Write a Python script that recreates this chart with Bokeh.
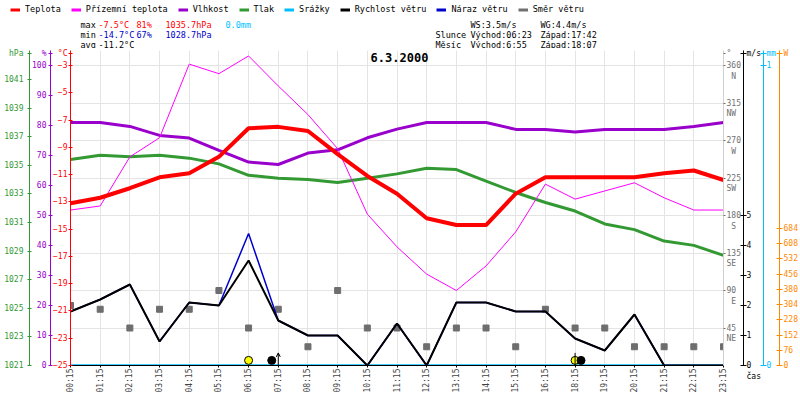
import math
from bokeh.plotting import figure
from bokeh.layouts import column
from bokeh.models import (Range1d, LinearAxis, FixedTicker, Label, Legend, LegendItem,
                          Grid, Arrow, OpenHead, ColumnDataSource)
from bokeh.embed import file_html
from bokeh.resources import INLINE

# ---------------- data ----------------
times = ["00:15", "01:15", "02:15", "03:15", "04:15", "05:15", "06:15", "07:15",
         "08:15", "09:15", "10:15", "11:15", "12:15", "13:15", "14:15", "15:15",
         "16:15", "18:15", "19:15", "20:15", "21:15", "22:15", "23:15"]
temp = [-13.1, -12.7, -12.0, -11.2, -10.9, -9.7, -7.6, -7.5, -7.8, -9.5, -11.1, -12.4,
        -14.2, -14.7, -14.7, -12.4, -11.2, -11.2, -11.2, -11.2, -10.9, -10.7, -11.4]
frost = [-13.6, -13.3, -9.7, -8.3, -2.9, -3.6, -2.3, -4.5, -6.6, -9.1, -13.9, -16.3,
         -18.3, -19.5, -17.7, -15.2, -11.7, -12.8, -12.2, -11.6, -12.7, -13.6, -13.6]
humidity = [81, 81, 79.7, 76.7, 75.8, 71.7, 67.8, 67, 70.8, 71.9, 75.9, 78.8,
            81, 81, 81, 78.7, 78.7, 77.8, 78.7, 78.7, 78.7, 79.7, 81]
pressure = [1035.4, 1035.7, 1035.6, 1035.7, 1035.5, 1035.1, 1034.3, 1034.1, 1034.0, 1033.8,
            1034.1, 1034.4, 1034.8, 1034.7, 1033.9, 1033.1, 1032.4, 1031.8, 1030.9,
            1030.5, 1029.7, 1029.4, 1028.7]
rain = [0.0, 0.0, 0.0, 0.0, 0.0, 0.0, 0.0, 0.0, 0.0, 0.0, 0.0, 0.0,
        0.0, 0.0, 0.0, 0.0, 0.0, 0.0, 0.0, 0.0, 0.0, 0.0, 0.0]
wind = [1.8, 2.2, 2.7, 0.8, 2.1, 2.0, 3.5, 1.5, 1.0, 1.0, 0.0, 1.4,
        0.0, 2.1, 2.1, 1.8, 1.8, 0.9, 0.5, 1.7, 0.0, 0.0, 0.0]
gust = [1.8, 2.2, 2.7, 0.8, 2.1, 2.0, 4.4, 1.5, 1.0, 1.0, 0.0, 1.4,
        0.0, 2.1, 2.1, 1.8, 1.8, 0.9, 0.5, 1.7, 0.0, 0.0, 0.0]
wdir = [72, 67.5, 45, 67.5, 67.5, 90, 45, 67.5, 22.5, 90, 45, 45,
        22.5, 45, 45, 22.5, 67.5, 45, 45, 22.5, 22.5, 22.5, 22.5]

temp_ticks = [-25, -23, -21, -19, -17, -15, -13, -11, -9, -7, -5, -3]
hum_ticks = [0, 10, 20, 30, 40, 50, 60, 70, 80, 90, 100]
press_ticks = [1021, 1023, 1025, 1027, 1029, 1031, 1033, 1035, 1037, 1039, 1041]
dir_ticks = [45, 90, 135, 180, 225, 270, 315, 360]
dir_letters = ["NE", " E", "SE", " S", "SW", " W", "NW", " N"]
wind_ticks = [0, 1, 2, 3, 4, 5]
rain_ticks = [0, 1]
sol_ticks = [0, 76, 152, 228, 304, 380, 456, 532, 608, 684]

# unit captions written at the top end of each axis (value where they sit)
unit_temp = (-2.12, "°C")
unit_hum = (104, "%")
unit_press = (1042.82, "hPa")
unit_dir = (374.4, "°")
unit_wind = (10.4, "m/s")
unit_rain = (1.04, "mm")
unit_sol = (1558, "W")

sun_x = [6.0, 17.0]        # sunrise / sunset marks (axis positions)
moon_x = [6.78, 17.2]      # moonrise / moonset marks
mark_level = [0.17, 0.17]  # height of the marks (m/s scale)
rise_arrow_x = 7.0
set_line_x = 17.0

legend_labels = ["Teplota", "Přízemní teplota", "Vlhkost", "Tlak", "Srážky",
                 "Rychlost větru", "Náraz větru", "Směr větru"]

# ---------------- styles ----------------
FONT = "DejaVu Sans Mono"
RED = "#ff0000"
MAG = "#ff00ff"
PUR = "#9900cc"
GRN = "#339933"
CYA = "#00bfff"
BLK = "#000000"
BLU = "#0000cc"
GRY = "#707070"
ORA = "#ff8800"
GRID = "#e4e4e4"
legend_colors = [RED, MAG, PUR, GRN, CYA, BLK, BLU, GRY]

HH = 48                      # header height
W, H = 800, 400 - HH
FL, FR, FT, FB = 70, 723, 50, 365   # frame edges in page pixels
FH = FB - FT
NB = "\u00a0"
NAN = float("nan")

# ---------------- header (legend + statistics) ----------------
hdr = figure(width=W, height=HH, output_backend="svg", toolbar_location=None,
             x_range=Range1d(0, W), y_range=Range1d(0, HH),
             x_axis_type=None, y_axis_type=None, min_border=0,
             outline_line_color=None, background_fill_color="white",
             border_fill_color="white")
hdr.xgrid.visible = False
hdr.ygrid.visible = False

items = []
for lbl, col in zip(legend_labels, legend_colors):
    # legend proxy (a single empty point, nothing is drawn in the header itself)
    r = hdr.line(x=[NAN], y=[NAN], line_color=col, line_width=3)
    items.append(LegendItem(label=lbl, renderers=[r]))
legend = Legend(items=items, orientation="horizontal", location=(10, HH - 14),
                glyph_width=10, glyph_height=9, label_height=9, label_standoff=5,
                spacing=10, padding=0, margin=0, border_line_color=None,
                background_fill_alpha=0, label_text_font=FONT,
                label_text_font_size="8.5px", label_text_color=BLK)
hdr.add_layout(legend, "center")


def hlab(text, px, py, color=BLK):
    hdr.add_layout(Label(x=px, y=HH - py, x_units="screen", y_units="screen",
                         text=text, text_color=color, text_font=FONT,
                         text_font_size="8.5px", text_baseline="middle"))


hlab("max", 80, 24)
hlab("-7.5°C", 98, 24, RED)
hlab("81%", 136, 24, RED)
hlab("1035.7hPa", 165, 24, RED)
hlab("0.0mm", 225, 24, CYA)
hlab("min", 80, 34)
hlab("-14.7°C", 98, 34, BLU)
hlab("67%", 136, 34, BLU)
hlab("1028.7hPa", 165, 34, BLU)
hlab("avg", 80, 44)
hlab("-11.2°C", 98, 44)
hlab("WS:3.5m/s", 470, 24)
hlab("WG:4.4m/s", 540, 24)
hlab("Slunce", 435, 34)
hlab("Východ:06:23", 470, 34)
hlab("Západ:17:42", 540, 34)
hlab("Měsíc", 435, 44)
hlab("Východ:6:55", 470, 44)
hlab("Západ:18:07", 540, 44)

# ---------------- main chart ----------------
src = ColumnDataSource(dict(x=list(range(len(times))), temp=temp, frost=frost,
                            hum=humidity, press=pressure, rain=rain, wind=wind,
                            gust=gust, wdir=wdir))

p = figure(width=W, height=H, output_backend="svg", toolbar_location=None,
           x_range=Range1d(0, len(times) - 1),
           y_range=Range1d(-25, -3 + 15 / 13.636),
           min_border_left=FL, min_border_right=W - FR,
           min_border_top=FT - HH, min_border_bottom=400 - FB,
           outline_line_color=None, background_fill_color="white",
           border_fill_color="white")

# keep the header's drawing area independent from the chart's frame
for fig in (hdr, p):
    try:
        fig.frame_align = False
    except Exception:
        pass

p.extra_y_ranges = {
    "hum": Range1d(0, 105),
    "press": Range1d(1021, 1021 + FH / 14.3),
    "dir": Range1d(0, 378),
    "wind": Range1d(0, 10.5),
    "rain": Range1d(0, 1.05),
    "sol": Range1d(0, 1573),
}


def style(ax, color, ticks, unit, tin=2, tout=2, line=None, text=None, standoff=1,
          overrides=None):
    ax.ticker = FixedTicker(ticks=ticks + [unit[0]])
    ov = {unit[0]: unit[1]}
    if overrides:
        ov.update(overrides)
    ax.major_label_overrides = ov
    ax.axis_line_color = line or color
    ax.major_tick_line_color = color
    ax.major_label_text_color = text or color
    ax.minor_tick_line_color = None
    ax.major_tick_in = tin
    ax.major_tick_out = tout
    ax.major_label_standoff = standoff
    ax.major_label_text_font = FONT
    ax.major_label_text_font_size = "8px"


# left axes
style(p.yaxis[0], RED, temp_ticks, unit_temp)
ax_h = LinearAxis(y_range_name="hum")
style(ax_h, PUR, hum_ticks, unit_hum, standoff=2)
p.add_layout(ax_h, "left")
ax_p = LinearAxis(y_range_name="press")
style(ax_p, GRN, press_ticks, unit_press, standoff=4)
p.add_layout(ax_p, "left")

# right axes
ax_d = LinearAxis(y_range_name="dir")
dir_ov = {d: NB + "\n" + str(d) + "\n" + t.replace(" ", NB) for d, t in zip(dir_ticks, dir_letters)}
style(ax_d, GRY, dir_ticks, unit_dir, tin=0, tout=2, line="#d0d0d0", standoff=1,
      overrides=dir_ov)
p.add_layout(ax_d, "right")
ax_w = LinearAxis(y_range_name="wind")
style(ax_w, BLK, wind_ticks, unit_wind, tin=3, tout=3, standoff=0,
      overrides={0: NB + "\n0\nčas"})
p.add_layout(ax_w, "right")
ax_r = LinearAxis(y_range_name="rain")
style(ax_r, CYA, rain_ticks, unit_rain, tin=3, tout=3, standoff=0)
p.add_layout(ax_r, "right")
ax_s = LinearAxis(y_range_name="sol")
style(ax_s, ORA, sol_ticks, unit_sol, tin=3, tout=3, standoff=1)
p.add_layout(ax_s, "right")

# x axis
xa = p.xaxis[0]
xa.ticker = FixedTicker(ticks=list(range(len(times))))
xa.major_label_overrides = {i: t for i, t in enumerate(times)}
xa.major_label_orientation = math.pi / 2
xa.major_label_text_font = FONT
xa.major_label_text_font_size = "8px"
xa.major_label_standoff = 1
xa.major_tick_in = 0
xa.major_tick_out = 2
xa.minor_tick_line_color = None
xa.axis_line_color = BLK
xa.major_tick_line_color = BLK

# grids
p.ygrid.grid_line_color = None
p.xgrid.grid_line_color = GRID
p.xgrid.ticker = xa.ticker
p.add_layout(Grid(dimension=1, ticker=FixedTicker(ticks=dir_ticks), y_range_name="dir",
                  grid_line_color=GRID))

# glyphs
p.scatter("x", "wdir", source=src, y_range_name="dir", marker="square",
          size=6, color="#6e6e6e")
p.line("x", "press", source=src, y_range_name="press", color=GRN, line_width=3)
p.line("x", "hum", source=src, y_range_name="hum", color=PUR, line_width=3)
p.line("x", "frost", source=src, color=MAG, line_width=1)
p.line("x", "temp", source=src, color=RED, line_width=4)
p.line("x", "rain", source=src, y_range_name="rain", color=CYA, line_width=2.5)
p.line("x", "gust", source=src, y_range_name="wind", color=BLU, line_width=1.5)
p.line("x", "wind", source=src, y_range_name="wind", color=BLK, line_width=2)

# sun / moon marks
p.scatter(sun_x, mark_level, y_range_name="wind", marker="circle", size=8,
          fill_color="#ffff00", line_color=BLK, line_width=1)
p.scatter(moon_x, mark_level, y_range_name="wind", marker="circle", size=8,
          fill_color=BLK, line_color=BLK)
p.add_layout(Arrow(end=OpenHead(size=4, line_width=1, line_color=BLK),
                   x_start=rise_arrow_x, y_start=0, x_end=rise_arrow_x, y_end=0.42,
                   y_range_name="wind", line_color=BLK, line_width=1))
p.segment(x0=[set_line_x], y0=[0], x1=[set_line_x], y1=[0.42], y_range_name="wind",
          line_color=BLK, line_width=1)

# title inside the plot area
p.add_layout(Label(x=399 - FL, y=FB - 57, x_units="screen", y_units="screen",
                   text="6.3.2000", text_color=BLK, text_font=FONT, text_font_size="12px",
                   text_font_style="bold", text_align="center", text_baseline="middle"))

layout = column(hdr, p, spacing=0)
open("out.html", "w").write(file_html(layout, INLINE))
